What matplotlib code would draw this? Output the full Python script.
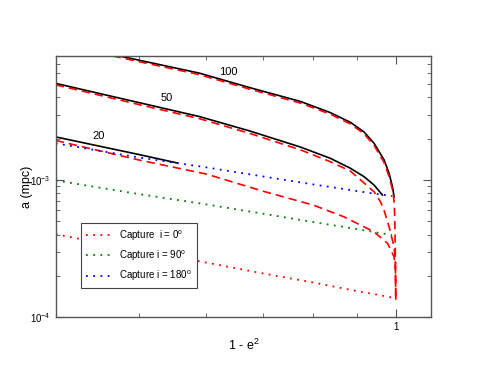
import matplotlib
matplotlib.use('Agg')
import matplotlib.pyplot as plt
from matplotlib.ticker import NullFormatter, FuncFormatter

plt.rcParams['font.family'] = ['Liberation Sans', 'DejaVu Sans']
plt.rcParams['mathtext.fontset'] = 'custom'
plt.rcParams['mathtext.rm'] = 'Liberation Sans'

# x = 1 - e^2, y = a in mpc

# solid black tracks
x_100 = [0.45, 0.5, 0.589, 0.674, 0.773, 0.838, 0.885, 0.918, 0.943, 0.969, 0.982, 0.991, 0.9954]
a_100 = [8.6e-3, 7.48e-3, 6.01e-3, 4.72e-3, 3.74e-3, 3.10e-3, 2.63e-3, 2.24e-3, 1.853e-3,
         1.40e-3, 1.119e-3, 0.894e-3, 0.755e-3]
x_50 = [0.4, 0.45, 0.5, 0.589, 0.674, 0.773, 0.838, 0.885, 0.918, 0.943, 0.9645]
a_50 = [5.06e-3, 4.27e-3, 3.67e-3, 2.90e-3, 2.28e-3, 1.74e-3, 1.44e-3, 1.217e-3, 1.057e-3,
        0.919e-3, 0.777e-3]
x_20 = [0.4, 0.5, 0.555]
a_20 = [2.06e-3, 1.535e-3, 1.33e-3]

# red dashed tracks
xd_100 = [0.45, 0.5, 0.589, 0.674, 0.773, 0.838, 0.885, 0.918, 0.943, 0.969, 0.982, 0.991,
          0.9954, 0.997, 0.9985, 1.0]
ad_100 = [8.4e-3, 7.3e-3, 5.86e-3, 4.60e-3, 3.64e-3, 3.02e-3, 2.56e-3, 2.17e-3, 1.79e-3,
          1.34e-3, 1.06e-3, 0.85e-3, 0.70e-3, 0.55e-3, 0.33e-3, 0.134e-3]
xd_50 = [0.4, 0.45, 0.5, 0.589, 0.674, 0.773, 0.838, 0.885, 0.918, 0.943, 0.960, 0.969,
         0.982, 0.9954, 0.999, 1.0]
ad_50 = [4.94e-3, 4.15e-3, 3.55e-3, 2.80e-3, 2.19e-3, 1.66e-3, 1.36e-3, 1.16e-3, 0.951e-3,
         0.821e-3, 0.69e-3, 0.60e-3, 0.456e-3, 0.326e-3, 0.26e-3, 0.134e-3]
xd_20 = [0.4, 0.5, 0.6, 0.7, 0.8, 0.869, 0.909, 0.943, 0.978, 0.9954, 0.999, 1.0]
ad_20 = [1.94e-3, 1.40e-3, 1.105e-3, 0.827e-3, 0.657e-3, 0.540e-3, 0.469e-3, 0.419e-3,
         0.345e-3, 0.275e-3, 0.22e-3, 0.134e-3]

# capture curves
x_cap = [0.4, 0.5, 0.6, 0.7, 0.8, 0.9, 0.95, 0.99]
cap_0 = [0.402e-3, 0.308e-3, 0.250e-3, 0.208e-3, 0.179e-3, 0.155e-3, 0.146e-3, 0.139e-3]
cap_90 = [0.992e-3, 0.790e-3, 0.664e-3, 0.567e-3, 0.494e-3, 0.439e-3, 0.414e-3, 0.397e-3]
cap_180 = [1.85e-3, 1.46e-3, 1.236e-3, 1.06e-3, 0.929e-3, 0.831e-3, 0.790e-3, 0.764e-3]

track_labels = ['100', '50', '20']
label_pos = [(0.637, 6.14e-3), (0.540, 3.97e-3), (0.449, 2.10e-3)]

fig = plt.figure(figsize=(4.85, 3.74), dpi=100)
ax = fig.add_axes([0.115, 0.152, 0.774, 0.698])

ax.plot(x_100, a_100, color='black', lw=1.2)
ax.plot(x_50, a_50, color='black', lw=1.2)
ax.plot(x_20, a_20, color='black', lw=1.2)
for xd, ad in [(xd_100, ad_100), (xd_50, ad_50), (xd_20, ad_20)]:
    ax.plot(xd, ad, color='red', lw=1.2, dashes=(5, 3))

ax.plot(x_cap, cap_0, color='red', lw=1.3, ls=(0, (1, 3)), label=r'Capture  i = 0$^{\rm o}$')
ax.plot(x_cap, cap_90, color='green', lw=1.3, ls=(0, (1, 3)), label=r'Capture i = 90$^{\rm o}$')
ax.plot(x_cap, cap_180, color='blue', lw=1.3, ls=(0, (1, 3)), label=r'Capture i = 180$^{\rm o}$')

for lab, (tx, ty) in zip(track_labels, label_pos):
    ax.text(tx, ty, lab, fontsize=8, ha='center', va='center')

ax.set_xscale('log')
ax.set_yscale('log')
ax.set_xlim(0.4, 1.1)
ax.set_ylim(1e-4, 8e-3)

ax.xaxis.set_major_formatter(FuncFormatter(lambda v, p: '%g' % v))
ax.xaxis.set_minor_formatter(NullFormatter())
ax.yaxis.set_minor_formatter(NullFormatter())
ax.tick_params(which='both', direction='in', top=True, right=True, color='#555555')
ax.tick_params(which='major', length=6, labelsize=7)
ax.tick_params(which='minor', length=3)
for s in ax.spines.values():
    s.set_color('#555555')
    s.set_linewidth(1.0)

ax.set_xlabel(r'1 - e$^2$', fontsize=9)
ax.set_ylabel('a (mpc)', fontsize=9)
ax.yaxis.set_label_coords(-0.062, 0.5)

leg = ax.legend(loc='lower left', bbox_to_anchor=(0.0685, 0.112), borderaxespad=0,
                fontsize=7, fancybox=False, handlelength=2.6, framealpha=1,
                edgecolor='#444444', borderpad=0.5, labelspacing=0.6)
leg.get_frame().set_linewidth(0.8)

fig.savefig('out.png', dpi=100)
